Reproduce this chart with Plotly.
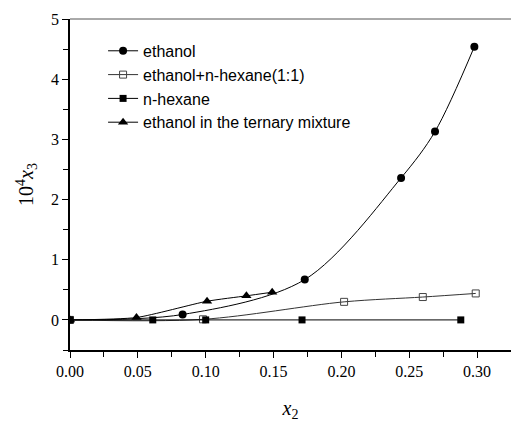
import plotly.graph_objects as go

ethanol_x = [0.0, 0.083, 0.173, 0.244, 0.269, 0.298]
ethanol_y = [0.0, 0.09, 0.67, 2.36, 3.13, 4.54]

mix_x = [0.0, 0.098, 0.202, 0.260, 0.299]
mix_y = [0.0, 0.01, 0.30, 0.38, 0.44]

hex_x = [0.0, 0.061, 0.100, 0.171, 0.288]
hex_y = [0.0, 0.0, 0.0, 0.0, 0.0]

tern_x = [0.0, 0.049, 0.101, 0.130, 0.149]
tern_y = [0.0, 0.04, 0.31, 0.40, 0.46]

fig = go.Figure()
fig.add_trace(go.Scatter(x=ethanol_x, y=ethanol_y, name="ethanol", mode="lines+markers",
                         line=dict(color="black", width=1, shape="spline", smoothing=0.9),
                         marker=dict(symbol="circle", size=8, color="black")))
fig.add_trace(go.Scatter(x=mix_x, y=mix_y, name="ethanol+n-hexane(1:1)", mode="lines+markers",
                         line=dict(color="#333333", width=1, shape="spline", smoothing=0.9),
                         marker=dict(symbol="square-open", size=7, color="#444444", line=dict(width=1))))
fig.add_trace(go.Scatter(x=hex_x, y=hex_y, name="n-hexane", mode="lines+markers",
                         line=dict(color="black", width=1),
                         marker=dict(symbol="square", size=7, color="black")))
fig.add_trace(go.Scatter(x=tern_x, y=tern_y, name="ethanol in the ternary mixture", mode="lines+markers",
                         line=dict(color="black", width=1, shape="spline", smoothing=0.6),
                         marker=dict(symbol="triangle-up", size=9, color="black")))

serif = "Liberation Serif, Times New Roman, serif"
tickfont = dict(family=serif, size=16, color="black")
fig.update_layout(
    width=511, height=422,
    margin=dict(l=70, r=0, t=19, b=72),
    plot_bgcolor="white", paper_bgcolor="white",
    showlegend=True,
    legend=dict(x=0.075, y=0.955, xanchor="left", yanchor="top",
                font=dict(family="Liberation Sans, Arial, sans-serif", size=16, color="black"),
                bgcolor="rgba(0,0,0,0)", tracegroupgap=0, itemwidth=30),
    xaxis=dict(range=[0, 0.325], tick0=0, dtick=0.05, tickformat=".2f",
               ticks="outside", ticklen=6, tickwidth=1, tickcolor="black",
               minor=dict(ticks="outside", ticklen=5, tickwidth=1, tickcolor="black",
                          tick0=0, dtick=0.025, showgrid=False),
               showline=True, linecolor="black", linewidth=1.5, mirror=False,
               showgrid=False, zeroline=False, tickfont=tickfont,
               title=dict(text="<i>x</i><sub>2</sub>",
                          font=dict(family=serif, size=20, color="black"),
                          standoff=22)),
    yaxis=dict(range=[-0.5, 5], tick0=0, dtick=1,
               ticks="outside", ticklen=6, tickwidth=1, tickcolor="black",
               minor=dict(ticks="outside", ticklen=5, tickwidth=1, tickcolor="black",
                          tick0=0, dtick=0.5, showgrid=False),
               showline=True, linecolor="black", linewidth=1.5, mirror=False,
               showgrid=False, zeroline=False, tickfont=tickfont,
               title=dict(text="10<sup>4</sup><i>x</i><sub>3</sub>",
                          font=dict(family=serif, size=20, color="black"),
                          standoff=12)),
)
fig.add_shape(type="line", xref="paper", yref="paper", x0=0, x1=1, y0=1, y1=1,
              line=dict(color="#555555", width=1))
fig.write_html("out.html")
